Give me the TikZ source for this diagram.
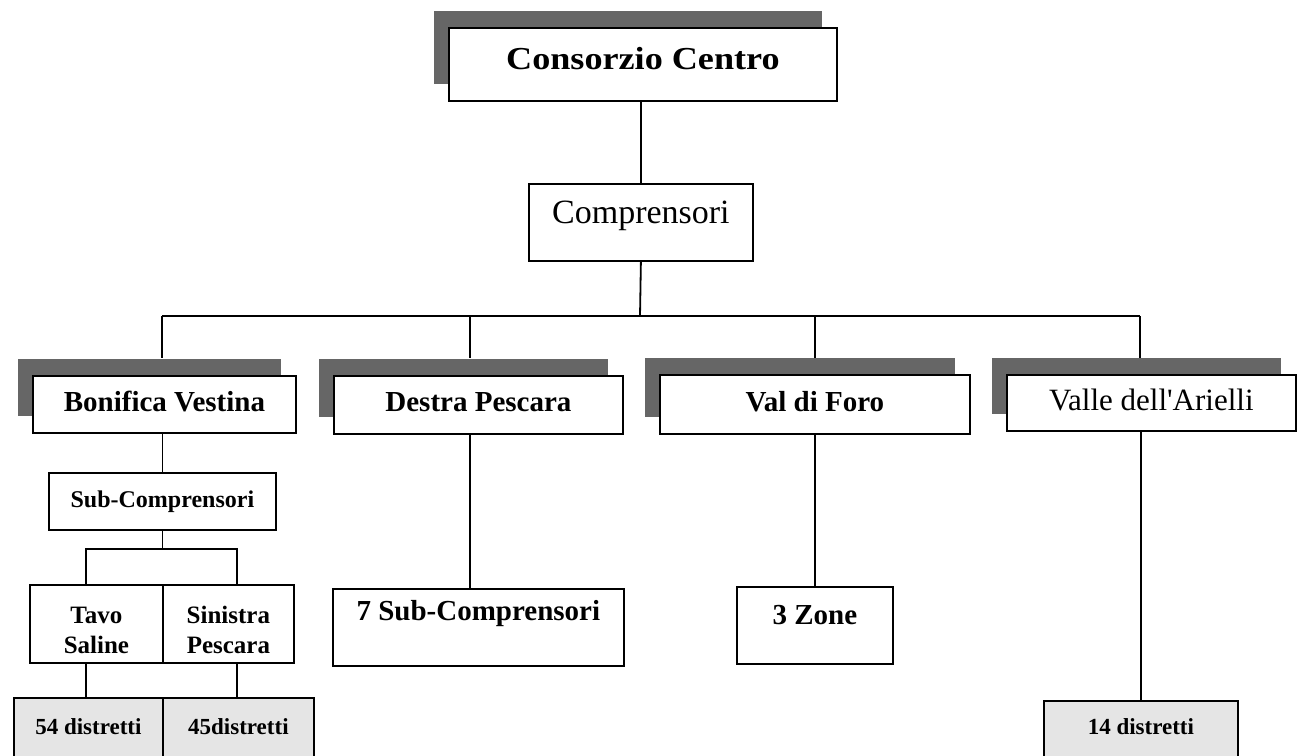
\documentclass[tikz,border=0pt]{standalone}
\usepackage{fontspec}
\setmainfont{Liberation Serif}
\newfontfamily\widefont[FakeStretch=1.13]{Liberation Serif}
\usetikzlibrary{shadows}

\begin{document}
\begin{tikzpicture}[x=0.5pt, y=-0.5pt, line width=0.9pt,
    box/.style={draw, fill=white, inner sep=0pt, anchor=north west},
    head/.style={box, drop shadow={shadow xshift=-7.5pt, shadow yshift=8.5pt, fill=black!60, opacity=1}},
    mid/.style={font=\fontsize{14.5}{17}\selectfont\bfseries},
    small/.style={font=\fontsize{12.5}{15}\selectfont\bfseries},
    dist/.style={box, fill=black!10, font=\fontsize{11.5}{13}\selectfont\bfseries}]
  \clip (0,0) rectangle (1300,755);

  % top levels
  \node[head, minimum width=194pt, text height=21pt, text depth=15.5pt,
        font=\widefont\bfseries\fontsize{16}{19}\selectfont] (cons) at (448,27) {Consorzio Centro};
  \node[box, minimum width=112pt, text height=20pt, text depth=18.5pt,
        font=\fontsize{17}{20}\selectfont] (comp) at (528,183) {Comprensori};

  % comprensori
  \node[head, mid, minimum width=131.5pt, text height=18pt, text depth=10.5pt] (bv) at (32,375) {Bonifica Vestina};
  \node[head, mid, minimum width=144.5pt, text height=18pt, text depth=11pt] (dp) at (333,375) {Destra Pescara};
  \node[head, mid, minimum width=155pt, text height=18.5pt, text depth=11pt] (vf) at (659,374) {Val di Foro};
  \node[head, minimum width=144.5pt, text height=18pt, text depth=10pt,
        font=\fontsize{15.5}{18}\selectfont] (vl) at (1006,374) {Valle dell\textquotesingle Arielli};

  % sotto-livelli
  \node[box, font=\fontsize{12}{14}\selectfont\bfseries, minimum width=113.5pt,
        text height=17.5pt, text depth=11pt] (sub) at (48,472) {Sub-Comprensori};
  \node[box, small, align=center, minimum width=66.5pt, minimum height=39pt] (tavo) at (29,584) {\rule{0pt}{15pt}Tavo\\Saline};
  \node[box, small, align=center, minimum width=65.5pt, minimum height=39pt] (sin) at (162,584) {\rule{0pt}{15pt}Sinistra\\Pescara};
  \node[box, mid, minimum width=145.5pt, text height=16pt, text depth=22.5pt] (sub7) at (332,588) {7 Sub-Comprensori};
  \node[box, mid, minimum width=78pt, text height=19pt, text depth=19.5pt] (zone) at (736,586) {3 Zone};

  % distretti
  \node[dist, minimum width=74.5pt, text height=18.5pt, text depth=15pt] (d54) at (13,697) {54 distretti};
  \node[dist, minimum width=75.5pt, text height=18.5pt, text depth=15pt] (d45) at (162,697) {45distretti};
  \node[dist, minimum width=97pt, text height=17pt, text depth=16pt] (d14) at (1043,700) {14 distretti};

  % connettori
  \coordinate (bus) at (640,316);
  \coordinate (bvx) at (162,358);
  \coordinate (dpx) at (470,358);
  \coordinate (vfx) at (815,358);
  \coordinate (vlx) at (1140,358);
  \draw (comp.north |- cons.south) -- (comp.north);
  \draw (comp.south) -- (bus);
  \draw (bus -| bvx) -- (bus -| vlx);
  \foreach \p in {bvx, dpx, vfx, vlx}
    \draw (bus -| \p) -- (\p);

  \draw (sub.north) -- (sub.north |- bv.south);
  \coordinate (tv) at (86,549);
  \coordinate (sn) at (237,549);
  \draw (sub.south) -- (sub.south |- tv);
  \draw (tavo.north -| tv) -- (tv) -- (sn) -- (sn |- sin.north);
  \draw (tv |- tavo.south) -- (tv |- d54.north);
  \draw (sn |- sin.south) -- (sn |- d45.north);

  \draw (dpx |- dp.south) -- (dpx |- sub7.north);
  \draw (zone.north) -- (zone.north |- vf.south);
  \draw (d14.north) -- (d14.north |- vl.south);
\end{tikzpicture}
\end{document}
